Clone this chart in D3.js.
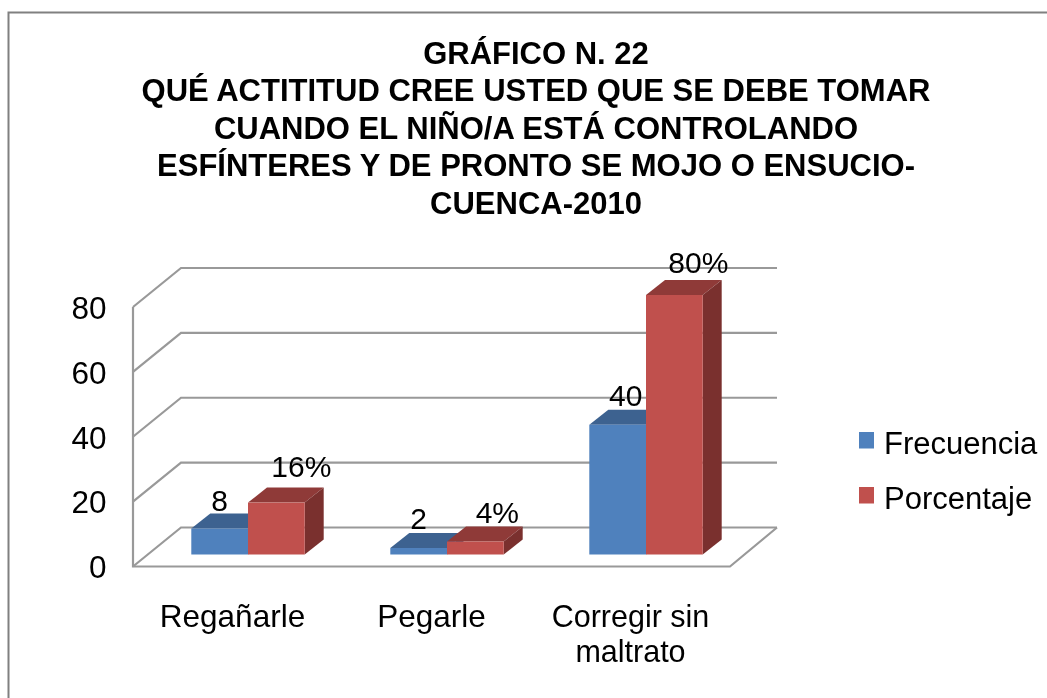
<!DOCTYPE html>
<html><head><meta charset="utf-8">
<script src="https://cdnjs.cloudflare.com/ajax/libs/d3/7.8.5/d3.min.js"></script>
<style>html,body{margin:0;background:#fff}svg{display:block;filter:blur(.55px)}text{font-family:"Liberation Sans",Arial,sans-serif;fill:#000}</style>
</head><body><svg width="1047" height="698"></svg>
<script>
const titleLines=["GRÁFICO N. 22","QUÉ ACTITITUD CREE USTED QUE SE DEBE TOMAR","CUANDO EL NIÑO/A ESTÁ CONTROLANDO","ESFÍNTERES Y DE PRONTO SE MOJO O ENSUCIO-","CUENCA-2010"];
const categories=[["Regañarle"],["Pegarle"],["Corregir sin","maltrato"]];
const categoryKeys=["Regañarle","Pegarle","Corregir sin maltrato"];
const seriesNames=["Frecuencia","Porcentaje"];
const frecuencia=[8,2,40];
const porcentaje=[16,4,80];
const frecuenciaLabels=["8","2","40"];
const porcentajeLabels=["16%","4%","80%"];
const yTicks=[0,20,40,60,80];

const colors=[{f:"#4f81bd",t:"#3d6290",s:"#375a85"},{f:"#c0504d",t:"#8f3a38",s:"#7a302e"}];
const svg=d3.select("svg");
const wall={dx:48,dy:-39}, floor={dx:15.5,dy:-12}, bar={dx:19,dy:-15};
const x=d3.scaleBand().domain(categoryKeys).range([133,730]);
const y=d3.scaleLinear().domain([0,80]).range([566.5,307]);
const grid="#999";
const FS=31.5;

svg.append("path").attr("d","M8.5,698V12.5H1047").attr("fill","none").attr("stroke","#808080").attr("stroke-width",2);

const g=svg.append("g").attr("fill","none").attr("stroke",grid).attr("stroke-width",2.2);
yTicks.forEach(t=>{
  g.append("path").attr("d",`M133,${y(t)}L${133+wall.dx},${y(t)+wall.dy}H777`);
});
g.append("path").attr("d",`M133,${y(80)}V${y(0)}H730L777,${y(0)+wall.dy}`);

const yAxis=d3.axisLeft(y).tickValues(yTicks).tickSize(0).tickPadding(0);
const ax=svg.append("g").attr("transform","translate(106.5,0)").call(yAxis);
ax.select(".domain").remove();
ax.selectAll("text").attr("font-size",FS).attr("dy","0.36em").attr("text-anchor","end").attr("fill","#000");

// label offsets from each bar's top-face centre, per series then per category
const nudgeX=[[0,0,8],[25,22,24]], nudgeY=[[-3,-4.5,-4],[-11,-4,-7]];
const labels=[];
function box(v,i,s,lab){
  const w=56.7, cx=x(categoryKeys[i])+x.bandwidth()/2+floor.dx;
  const x0=cx+(s-1)*w, x1=x0+w, b=y(0)+floor.dy, t=y(v)+floor.dy, c=colors[s];
  svg.append("path").attr("fill",c.t).attr("d",`M${x0},${t}L${x0+bar.dx},${t+bar.dy}H${x1+bar.dx}L${x1},${t}Z`);
  svg.append("path").attr("fill",c.s).attr("d",`M${x1},${t}L${x1+bar.dx},${t+bar.dy}V${b+bar.dy}L${x1},${b}Z`);
  svg.append("rect").attr("x",x0).attr("y",t).attr("width",w).attr("height",b-t).attr("fill",c.f);
  labels.push({lx:x0+w/2+nudgeX[s][i], ly:t+bar.dy+nudgeY[s][i], lab});
}
categoryKeys.forEach((k,i)=>{
  box(frecuencia[i],i,0,frecuenciaLabels[i]);
  box(porcentaje[i],i,1,porcentajeLabels[i]);
});
labels.forEach(l=>svg.append("text").attr("x",l.lx).attr("y",l.ly).attr("text-anchor","middle").attr("font-size",30).text(l.lab));

categories.forEach((c,i)=>{
  c.forEach((line,j)=>svg.append("text").attr("x",x(categoryKeys[i])+x.bandwidth()/2).attr("y",627+j*34.5).attr("text-anchor","middle").attr("font-size",i===2?30.5:FS).text(line));
});

titleLines.forEach((t,i)=>svg.append("text").attr("x",536).attr("y",63.5+i*37.6).attr("text-anchor","middle").attr("font-size",31).attr("font-weight","bold").text(t));

seriesNames.forEach((n,i)=>{
  const oy=i*55;
  svg.append("rect").attr("x",859).attr("y",432+oy).attr("width",15).attr("height",16.5).attr("fill",colors[i].f);
  svg.append("text").attr("x",884).attr("y",453.5+oy).attr("font-size",31).text(n);
});
</script></body></html>
